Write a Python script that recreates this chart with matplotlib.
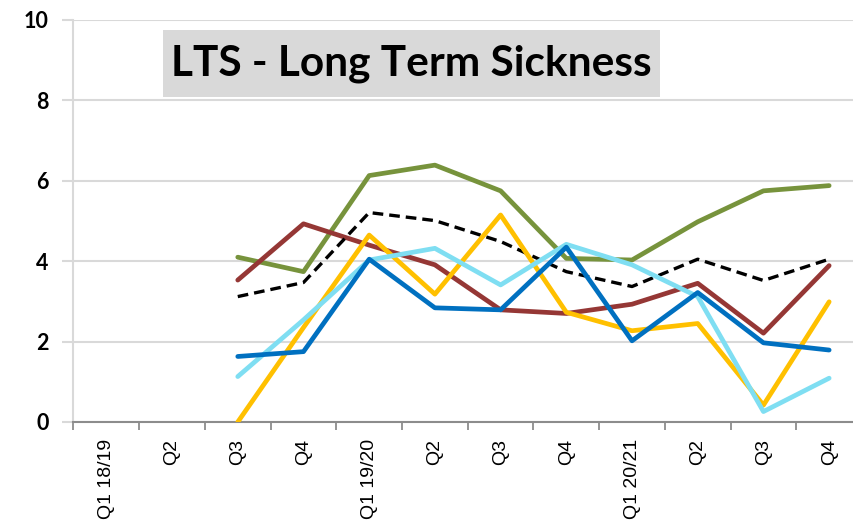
import numpy as np
import matplotlib
matplotlib.use("Agg")
import matplotlib.pyplot as plt
from matplotlib.patches import Rectangle

quarters = ["Q1 18/19", "Q2", "Q3", "Q4",
            "Q1 19/20", "Q2", "Q3", "Q4",
            "Q1 20/21", "Q2", "Q3", "Q4"]

nan = np.nan
green = [nan, nan, 4.10, 3.74, 6.13, 6.39, 5.75, 4.07, 4.03, 4.98, 5.75, 5.88]
red = [nan, nan, 3.53, 4.93, 4.40, 3.91, 2.79, 2.70, 2.93, 3.45, 2.21, 3.89]
yellow = [nan, nan, 0.00, 2.35, 4.65, 3.18, 5.15, 2.73, 2.27, 2.45, 0.42, 2.99]
light_blue = [nan, nan, 1.13, 2.54, 4.03, 4.32, 3.41, 4.42, 3.91, 3.12, 0.26, 1.09]
blue = [nan, nan, 1.63, 1.75, 4.05, 2.84, 2.79, 4.35, 2.02, 3.22, 1.97, 1.79]
average = [nan, nan, 3.12, 3.47, 5.21, 5.01, 4.49, 3.74, 3.37, 4.05, 3.52, 4.05]

W, H = 854, 530
fig = plt.figure(figsize=(W / 100, H / 100), dpi=100)
left, right, top, bottom = 73.5, 862, 20, 422
ax = fig.add_axes([left / W, 1 - bottom / H, (right - left) / W, (bottom - top) / H])

x = np.arange(len(quarters))
lw = 3.4
ax.plot(x, green, color="#77933C", lw=lw, solid_capstyle="round", zorder=3)
ax.plot(x, red, color="#953735", lw=lw, solid_capstyle="round", zorder=3)
ax.plot(x, average, color="black", lw=2.4, ls=(0, (3.2, 1.8)), zorder=3)
ax.plot(x, yellow, color="#FFC000", lw=lw, solid_capstyle="round", zorder=3)
ax.plot(x, light_blue, color="#7FDEF2", lw=lw, solid_capstyle="round", zorder=3)
ax.plot(x, blue, color="#0070C0", lw=lw, solid_capstyle="round", zorder=3)

ax.set_xlim(-0.5, len(quarters) - 0.5)
ax.set_ylim(0, 10)
ax.set_yticks(np.arange(0, 11, 2))
ax.yaxis.grid(True, color="#D9D9D9", lw=1.5, zorder=0)
ax.set_axisbelow(True)

ax.set_xticks(x)
ax.set_xticklabels(quarters, rotation=90, fontsize=14, family="Liberation Sans",
                   va="top")
ax.set_xticks(np.arange(len(quarters)) - 0.5, minor=True)
ax.tick_params(axis="x", which="major", length=0, pad=12)
ax.tick_params(axis="x", which="minor", length=6, width=1.3, color="#8C8C8C")
ax.tick_params(axis="y", length=8, width=1.5, color="#D9D9D9", pad=10)
for lab in ax.get_yticklabels():
    lab.set_fontweight("bold")
    lab.set_fontsize(15.5)
    lab.set_family("Lato")

for s in ("top", "right"):
    ax.spines[s].set_visible(False)
ax.spines["left"].set_color("#D9D9D9")
ax.spines["left"].set_linewidth(1.5)
ax.spines["bottom"].set_color("#8C8C8C")
ax.spines["bottom"].set_linewidth(1.5)

# title box
bx0, by0, bx1, by1 = 163, 30, 660, 97
fig.patches.append(Rectangle((bx0 / W, 1 - by1 / H), (bx1 - bx0) / W, (by1 - by0) / H,
                             transform=fig.transFigure, facecolor="#D9D9D9",
                             edgecolor="none", zorder=5))
fig.text((bx0 + bx1) / 2 / W, 1 - (by0 + by1) / 2 / H, "LTS - Long Term Sickness",
         ha="center", va="center", fontsize=30.5, fontweight="bold", family="Lato",
         zorder=6)

fig.savefig("out.png", dpi=100)
